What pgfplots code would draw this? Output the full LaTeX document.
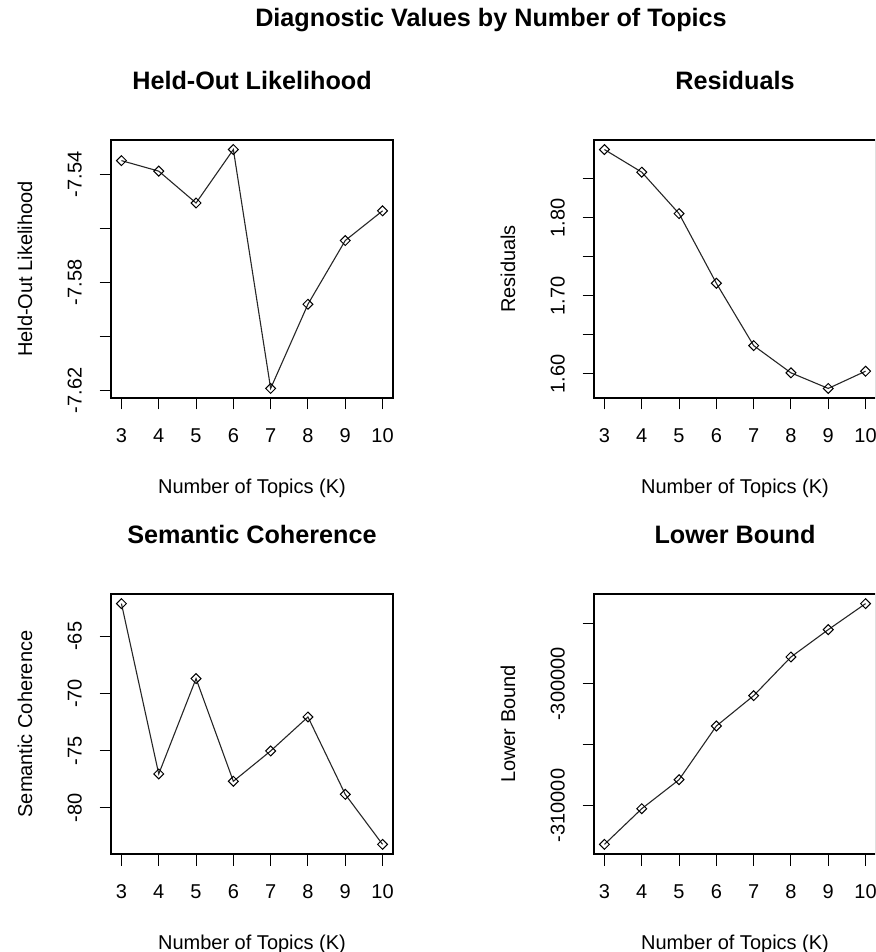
\documentclass[border=0pt]{standalone}
\usepackage{fontspec}
\setmainfont{Liberation Sans}
\usepackage{pgfplots}
\usepackage{pgfplotstable}
\pgfplotsset{compat=1.18}

% values (K = number of topics)
\pgfplotstableread{
K value
3 -7.5349
4 -7.5388
5 -7.5506
6 -7.5308
7 -7.6193
8 -7.5881
9 -7.5645
10 -7.5535
}\heldout

\pgfplotstableread{
K value
3 1.8877
4 1.8587
5 1.8055
6 1.7162
7 1.6362
8 1.6013
9 1.5813
10 1.6034
}\residuals

\pgfplotstableread{
K value
3 -62.15
4 -77.03
5 -68.70
6 -77.67
7 -75.02
8 -72.05
9 -78.81
10 -83.18
}\semcoh

\pgfplotstableread{
K value
3 -313193
4 -310258
5 -307872
6 -303456
7 -300960
8 -297778
9 -295529
10 -293390
}\lbound

\pgfplotsset{
  diag/.style={
    scale only axis, width=141pt,
    xmin=2.72, xmax=10.28,
    xtick={3,4,5,6,7,8,9,10},
    axis line style={line width=0.6pt},
    tick style={black, line width=0.5pt},
    tick align=outside, major tick length=5.75pt,
    xtick pos=lower, ytick pos=left,
    /pgf/number format/assume math mode=true,
    tick label style={font=\fontsize{10}{12}\selectfont, inner sep=0pt},
    xticklabel style={anchor=north, yshift=-9.5pt},
    yticklabel style={xshift=-8.6pt, rotate=90, anchor=south},
    label style={font=\fontsize{10}{12}\selectfont},
    xlabel={Number of Topics (K)},
    title style={font=\bfseries\fontsize{12.6}{15}\selectfont, anchor=center},
  },
  diagline/.style={black!85, line width=0.55pt,
    mark=square, mark size=1.75pt,
    mark options={rotate=45, black, line width=0.5pt, fill=none}},
  top/.style={height=129pt,
    xlabel style={at={(axis description cs:0.5,-0.349)}, anchor=center},
    ylabel style={at={(axis description cs:-0.305,0.5)}, anchor=center},
    title style={at={(axis description cs:0.5,1.186)}}},
  bot/.style={height=130pt,
    xlabel style={at={(axis description cs:0.5,-0.346)}, anchor=center},
    ylabel style={at={(axis description cs:-0.305,0.5)}, anchor=center},
    title style={at={(axis description cs:0.5,1.181)}}},
}

\begin{document}
\begin{tikzpicture}
\useasboundingbox (0,0) rectangle (437.5pt,476pt);
\clip (0,0) rectangle (437.5pt,476pt);

\node[font=\bfseries\fontsize{12.6}{15}\selectfont] at (245.5pt,466pt)
  {Diagnostic Values by Number of Topics};

\begin{axis}[diag, top, at={(55.5pt,277pt)}, anchor=south west,
  title={Held-Out Likelihood}, ylabel={Held-Out Likelihood},
  ymin=-7.62284, ymax=-7.52726,
  ytick={-7.62,-7.60,-7.58,-7.56,-7.54},
  yticklabels={-7.62,,-7.58,,-7.54}]
\addplot[diagline] table[x=K, y=value] {\heldout};
\end{axis}

\begin{axis}[diag, top, at={(297pt,277pt)}, anchor=south west,
  title={Residuals}, ylabel={Residuals},
  ymin=1.56904, ymax=1.89996,
  ytick={1.60,1.65,1.70,1.75,1.80,1.85},
  yticklabels={1.60,,1.70,,1.80,}]
\addplot[diagline] table[x=K, y=value] {\residuals};
\end{axis}

\begin{axis}[diag, bot, at={(55.5pt,49pt)}, anchor=south west,
  title={Semantic Coherence}, ylabel={Semantic Coherence},
  ymin=-84.02, ymax=-61.31,
  ytick={-80,-75,-70,-65},
  yticklabels={-80,-75,-70,-65}]
\addplot[diagline] table[x=K, y=value] {\semcoh};
\end{axis}

\begin{axis}[diag, bot, at={(297pt,49pt)}, anchor=south west,
  title={Lower Bound}, ylabel={Lower Bound},
  ymin=-313985, ymax=-292598,
  scaled y ticks=false,
  ytick={-310000,-305000,-300000,-295000},
  yticklabels={-310000,,-300000,}]
\addplot[diagline] table[x=K, y=value] {\lbound};
\end{axis}
\end{tikzpicture}
\end{document}
